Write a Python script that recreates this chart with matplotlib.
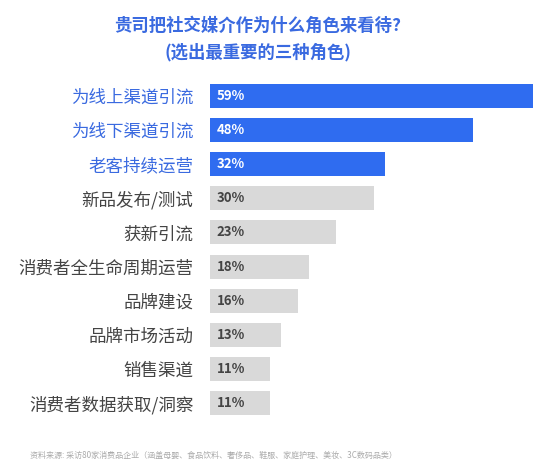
import matplotlib
matplotlib.use("Agg")
import matplotlib.pyplot as plt

plt.rcParams['font.family'] = ['Noto Sans CJK SC', 'DejaVu Sans']

# data
categories = ['为线上渠道引流', '为线下渠道引流', '老客持续运营', '新品发布/测试', '获新引流',
              '消费者全生命周期运营', '品牌建设', '品牌市场活动', '销售渠道', '消费者数据获取/洞察']
values = [59, 48, 32, 30, 23, 18, 16, 13, 11, 11]
n_highlight = 3

title = '贵司把社交媒介作为什么角色来看待?\n(选出最重要的三种角色)'
source = '资料来源: 采访80家消费品企业（涵盖母婴、食品饮料、奢侈品、鞋服、家庭护理、美妆、3C数码品类）'

BLUE = '#2f6cf0'
BLUE_TXT = '#3a6ae0'
GREY = '#d9d9d9'
DARK = '#444444'

W, H = 554, 469
fig = plt.figure(figsize=(W / 100, H / 100), dpi=100)
fig.patch.set_facecolor('white')

# axes placed in pixel terms: bars start at x=210, 59% ends at x=533
ax = fig.add_axes([210 / W, (H - 415) / H, 323 / W, 331 / H])
ys = list(range(len(categories)))
colors = [BLUE if i < n_highlight else GREY for i in ys]
ax.barh(ys, values, height=0.7, color=colors)
ax.set_xlim(0, 59)
ax.set_ylim(len(categories) - 0.65, -0.35)

for i, v in enumerate(values):
    ax.text(1.2, i, f'{v}%', va='center', ha='left', fontsize=9.5, fontweight='bold',
            color='white' if i < n_highlight else DARK)

ax.set_yticks(ys)
ax.set_yticklabels(categories, fontsize=12.6)
for i, lab in enumerate(ax.get_yticklabels()):
    lab.set_color(BLUE_TXT if i < n_highlight else DARK)
ax.tick_params(axis='y', length=0, pad=12)
ax.set_xticks([])
for s in ax.spines.values():
    s.set_visible(False)

fig.text(258 / W, 1 - 39 / H, title, ha='center', va='center', fontsize=12.5,
         fontweight='bold', color=BLUE_TXT, linespacing=1.6)
fig.text(30 / W, 1 - 455 / H, source, ha='left', va='center', fontsize=5.8, color='#aaaaaa')

fig.savefig('out.png', dpi=100)
